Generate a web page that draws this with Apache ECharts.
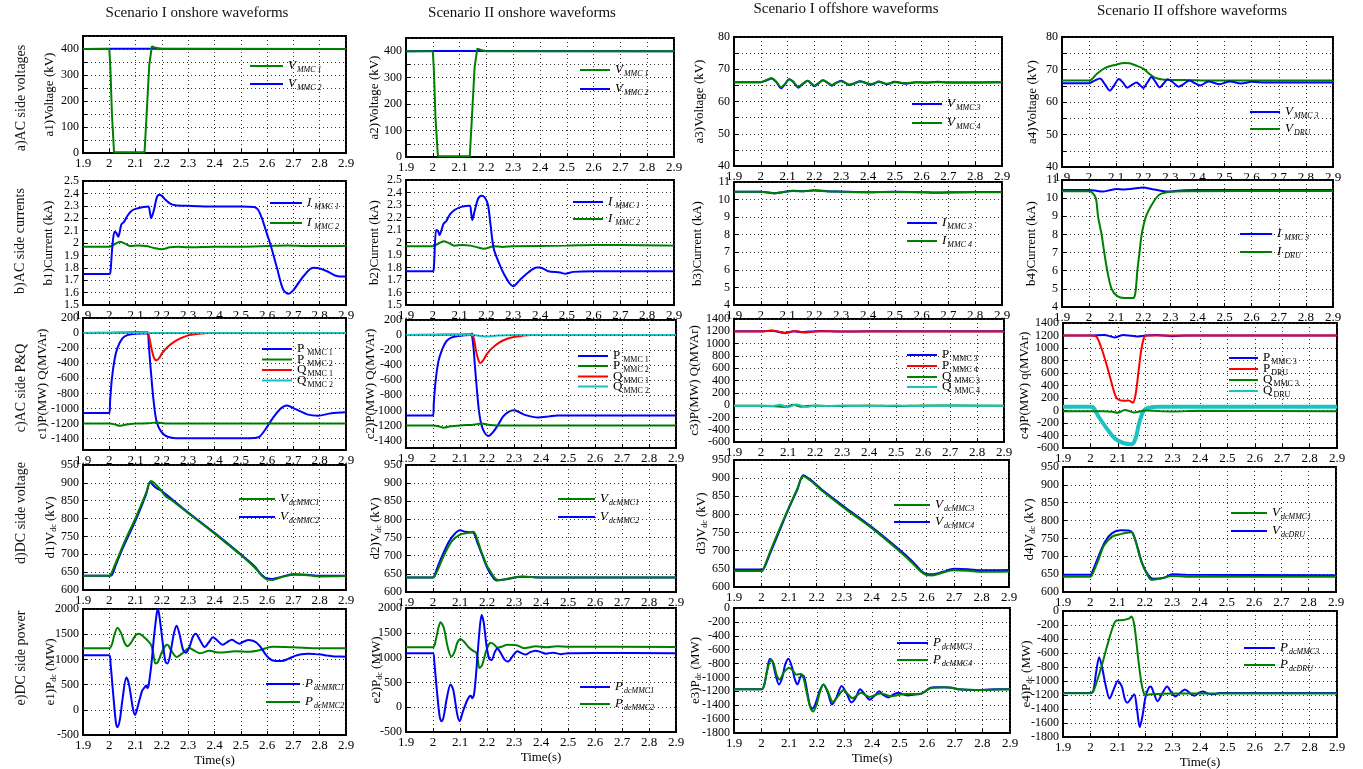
<!DOCTYPE html>
<html><head><meta charset="utf-8">
<script src="https://cdn.jsdelivr.net/npm/echarts@6/dist/echarts.min.js"></script>
<style>html,body{margin:0;padding:0;background:#fff}#c{width:1363px;height:769px}</style>
</head><body><div id="c"></div>
<script>
// ---------- texts ----------
const columnTitles = ['Scenario I onshore waveforms','Scenario II onshore waveforms','Scenario I offshore waveforms','Scenario II offshore waveforms'];
const rowTitles = ['a)AC side voltages','b)AC side currents','c)AC side P&Q','d)DC side voltage','e)DC side power'];
const timeRange = [1.9, 2.9, 0.1];
const cLineValues1 = [-1400,-1200,-1000,-800,-600,-400,-200,0,200];

// ---------- column 1 : Scenario I onshore ----------
const a1_V1 = [[1.9,400],[2.0,400],[2.004,330],[2.01,150],[2.018,3],[2.134,3],[2.142,150],[2.152,340],[2.162,410],[2.175,405],[2.2,400],[2.9,400]];
const a1_V2 = [[1.9,400],[2.0,401],[2.2,401],[2.9,400]];
const b1_I1 = [[1.9,1.75],[2.0,1.75],[2.004,1.76],[2.012,1.98],[2.02,2.09],[2.027,2.08],[2.034,2.05],[2.046,2.15],[2.056,2.17],[2.069,2.22],[2.085,2.26],[2.1,2.275],[2.13,2.29],[2.148,2.295],[2.155,2.24],[2.159,2.2],[2.169,2.26],[2.181,2.37],[2.19,2.39],[2.2,2.38],[2.2125,2.35],[2.23,2.32],[2.25,2.305],[2.3,2.3],[2.4,2.295],[2.5,2.295],[2.55,2.29],[2.565,2.27],[2.58,2.2],[2.6,2.07],[2.6125,1.99],[2.6375,1.8],[2.66,1.63],[2.68,1.59],[2.7,1.62],[2.7375,1.73],[2.775,1.8],[2.8,1.795],[2.83,1.77],[2.856,1.74],[2.88,1.73],[2.9,1.73]];
const b1_I2 = [[1.9,1.97],[2.0,1.97],[2.02,1.99],[2.04,2.01],[2.06,1.995],[2.08,1.975],[2.11,1.98],[2.14,1.975],[2.17,1.96],[2.2,1.95],[2.23,1.965],[2.26,1.97],[2.3,1.965],[2.4,1.97],[2.5,1.97],[2.6,1.975],[2.68,1.98],[2.75,1.975],[2.9,1.975]];
const c1_P1 = [[1.9,-1060],[2.0,-1060],[2.003,-900],[2.01,-600],[2.02,-350],[2.031,-195],[2.05,-70],[2.069,-27],[2.1,-8],[2.145,-3],[2.15,-150],[2.156,-420],[2.169,-915],[2.181,-1185],[2.206,-1340],[2.244,-1390],[2.3,-1395],[2.4,-1395],[2.5,-1393],[2.55,-1390],[2.569,-1380],[2.594,-1275],[2.619,-1140],[2.65,-1005],[2.675,-960],[2.706,-1005],[2.756,-1081],[2.794,-1095],[2.844,-1063],[2.9,-1050]];
const c1_P2 = [[1.9,-1200],[2.0,-1200],[2.02,-1210],[2.04,-1230],[2.06,-1215],[2.1,-1200],[2.15,-1195],[2.18,-1185],[2.22,-1200],[2.9,-1200]];
const c1_Q1 = [[1.9,0],[2.0,5],[2.1,10],[2.145,10],[2.152,-60],[2.16,-200],[2.17,-330],[2.18,-360],[2.19,-330],[2.2,-270],[2.22,-190],[2.245,-120],[2.27,-70],[2.3,-30],[2.34,-8],[2.38,0],[2.9,0]];
const c1_Q2 = [[1.9,0],[2.9,0]];
const d1_V1 = [[1.9,640],[2.0,640],[2.005,642],[2.02,668],[2.06,738],[2.1,802],[2.14,872],[2.158,905],[2.17,900],[2.19,885],[2.2,876],[2.215,862],[2.24,850],[2.3,815],[2.35,787],[2.4,758],[2.45,728],[2.5,698],[2.55,665],[2.58,640],[2.6,629],[2.62,628],[2.65,635],[2.7,643],[2.73,643],[2.8,638],[2.9,639]];
const d1_V2 = [[1.9,640],[2.0,640],[2.01,642],[2.025,670],[2.05,715],[2.1,795],[2.14,868],[2.155,902],[2.165,895],[2.18,885],[2.2,877],[2.22,865],[2.3,817],[2.4,760],[2.5,700],[2.55,668],[2.58,642],[2.6,632],[2.62,631],[2.66,638],[2.7,644],[2.75,643],[2.8,640],[2.9,640]];
const e1_P1 = [[1.9,1080],[2.0,1080],[2.005,900],[2.015,300],[2.025,-250],[2.031,-345],[2.04,-200],[2.05,200],[2.065,640],[2.075,500],[2.09,20],[2.098,-100],[2.11,100],[2.125,380],[2.135,450],[2.14,480],[2.145,430],[2.15,500],[2.16,900],[2.17,1450],[2.18,1900],[2.185,2000],[2.192,1800],[2.205,1250],[2.214,950],[2.221,920],[2.23,1050],[2.245,1500],[2.256,1670],[2.267,1500],[2.28,1200],[2.291,1130],[2.305,1250],[2.318,1450],[2.329,1510],[2.345,1380],[2.3625,1245],[2.38,1350],[2.394,1440],[2.41,1380],[2.431,1290],[2.45,1350],[2.466,1390],[2.48,1350],[2.494,1310],[2.51,1350],[2.53,1385],[2.545,1370],[2.56,1330],[2.575,1250],[2.594,1100],[2.61,1010],[2.625,975],[2.656,970],[2.68,1010],[2.706,1070],[2.73,1100],[2.756,1110],[2.78,1105],[2.806,1095],[2.83,1075],[2.856,1060],[2.88,1060],[2.9,1055]];
const e1_P2 = [[1.9,1220],[2.0,1220],[2.01,1300],[2.02,1500],[2.031,1630],[2.045,1520],[2.058,1330],[2.069,1260],[2.085,1350],[2.1,1480],[2.1125,1510],[2.13,1450],[2.145,1380],[2.16,1280],[2.168,1100],[2.175,920],[2.185,950],[2.2,1150],[2.213,1270],[2.221,1290],[2.235,1180],[2.256,1050],[2.28,1130],[2.304,1225],[2.325,1170],[2.344,1120],[2.38,1170],[2.42,1135],[2.48,1160],[2.53,1150],[2.57,1180],[2.62,1250],[2.7,1240],[2.8,1220],[2.9,1220]];

// ---------- column 2 : Scenario II onshore ----------
const a2_V1 = [[1.9,400],[2.0,400],[2.004,330],[2.01,150],[2.019,3],[2.138,3],[2.146,150],[2.156,340],[2.166,410],[2.18,405],[2.2,400],[2.9,400]];
const a2_V2 = [[1.9,400],[2.0,401],[2.2,401],[2.9,400]];
const b2_I1 = [[1.9,1.77],[2.0,1.77],[2.004,1.8],[2.0125,2.1],[2.02,2.09],[2.025,2.06],[2.04,2.15],[2.05,2.17],[2.0625,2.22],[2.081,2.26],[2.106,2.285],[2.1375,2.295],[2.143,2.24],[2.1475,2.18],[2.156,2.25],[2.169,2.35],[2.181,2.375],[2.194,2.36],[2.206,2.3],[2.215,2.15],[2.2275,1.95],[2.25,1.82],[2.265,1.75],[2.2875,1.67],[2.3,1.65],[2.325,1.7],[2.356,1.76],[2.3875,1.8],[2.4,1.8],[2.431,1.77],[2.475,1.76],[2.494,1.75],[2.525,1.765],[2.6,1.77],[2.9,1.77]];
const b2_I2 = [[1.9,1.97],[2.0,1.97],[2.02,1.99],[2.04,2.01],[2.06,1.995],[2.08,1.975],[2.11,1.98],[2.14,1.975],[2.17,1.96],[2.19,1.95],[2.23,1.97],[2.26,1.965],[2.3,1.97],[2.5,1.975],[2.6,1.98],[2.7,1.98],[2.9,1.975]];
const c2_P1 = [[1.9,-1070],[2.0,-1070],[2.003,-900],[2.01,-600],[2.02,-350],[2.033,-200],[2.05,-80],[2.07,-30],[2.1,-8],[2.14,0],[2.148,-100],[2.155,-400],[2.162,-700],[2.17,-1000],[2.18,-1200],[2.192,-1300],[2.206,-1340],[2.22,-1300],[2.24,-1200],[2.26,-1080],[2.28,-1020],[2.299,-1000],[2.32,-1025],[2.34,-1060],[2.39,-1095],[2.43,-1080],[2.46,-1068],[2.5,-1070],[2.6,-1068],[2.9,-1070]];
const c2_P2 = [[1.9,-1200],[2.0,-1200],[2.02,-1210],[2.04,-1230],[2.06,-1215],[2.1,-1200],[2.15,-1190],[2.18,-1175],[2.21,-1195],[2.24,-1200],[2.9,-1200]];
const c2_Q1 = [[1.9,0],[2.0,5],[2.14,10],[2.145,20],[2.152,-60],[2.16,-220],[2.168,-330],[2.175,-370],[2.185,-340],[2.2,-250],[2.22,-170],[2.245,-100],[2.27,-55],[2.3,-25],[2.33,-10],[2.36,0],[2.9,0]];
const c2_Q2 = [[1.9,0],[2.15,0],[2.18,-15],[2.2,-20],[2.24,-5],[2.3,0],[2.9,0]];
const d2_V1 = [[1.9,640],[2.0,640],[2.005,642],[2.02,665],[2.04,700],[2.07,740],[2.1,758],[2.13,763],[2.15,766],[2.164,745],[2.175,720],[2.185,700],[2.2,672],[2.21,660],[2.225,642],[2.24,633],[2.26,634],[2.28,637],[2.33,643],[2.4,640],[2.9,640]];
const d2_V2 = [[1.9,640],[2.0,640],[2.005,645],[2.02,675],[2.04,710],[2.06,740],[2.08,760],[2.1,770],[2.12,766],[2.14,764],[2.15,763],[2.165,735],[2.183,700],[2.2,668],[2.215,648],[2.235,632],[2.27,635],[2.33,642],[2.4,640],[2.5,640],[2.9,640]];
const e2_P1 = [[1.9,1090],[2.0,1090],[2.005,900],[2.015,300],[2.025,-200],[2.032,-285],[2.04,-180],[2.05,150],[2.065,460],[2.075,350],[2.09,-150],[2.099,-280],[2.11,-100],[2.125,120],[2.135,220],[2.14,230],[2.145,180],[2.152,260],[2.16,700],[2.17,1400],[2.18,1860],[2.188,1700],[2.198,1250],[2.208,980],[2.217,950],[2.228,1100],[2.238,1185],[2.25,1100],[2.265,960],[2.278,920],[2.295,1030],[2.312,1130],[2.328,1090],[2.343,1060],[2.36,1110],[2.38,1140],[2.4,1110],[2.417,1080],[2.445,1100],[2.473,1070],[2.5,1090],[2.6,1095],[2.9,1090]];
const e2_P2 = [[1.9,1210],[2.0,1210],[2.01,1350],[2.02,1600],[2.028,1715],[2.04,1600],[2.055,1200],[2.068,1020],[2.08,1120],[2.09,1300],[2.102,1373],[2.115,1320],[2.13,1220],[2.15,1130],[2.16,1100],[2.166,950],[2.172,790],[2.182,850],[2.195,1100],[2.207,1270],[2.214,1300],[2.225,1270],[2.24,1200],[2.255,1220],[2.275,1260],[2.31,1250],[2.337,1190],[2.36,1210],[2.38,1230],[2.42,1210],[2.46,1230],[2.5,1220],[2.9,1215]];

// ---------- column 3 : Scenario I offshore ----------
const a3_V3 = [[1.9,66],[2.0,66],[2.02,66.5],[2.04,67.1],[2.058,66],[2.076,64.1],[2.09,65.3],[2.106,66.9],[2.12,66.2],[2.14,64.3],[2.158,65.5],[2.175,66.4],[2.19,65.4],[2.2,64.7],[2.215,65.6],[2.232,66.6],[2.25,65.8],[2.265,64.9],[2.28,65.7],[2.3,66.4],[2.315,65.8],[2.33,65.1],[2.35,65.6],[2.37,66.3],[2.39,65.8],[2.41,65.2],[2.425,65.6],[2.44,66.2],[2.455,65.8],[2.47,65.3],[2.5,66.1],[2.54,65.5],[2.58,66.0],[2.62,65.8],[2.66,66.1],[2.7,65.9],[2.9,66]];
const a3_V4 = [[1.9,66],[2.0,66],[2.02,66.6],[2.04,67.2],[2.058,66.1],[2.076,64.4],[2.09,65.4],[2.106,66.9],[2.12,66.2],[2.14,64.6],[2.158,65.6],[2.175,66.4],[2.19,65.5],[2.2,64.9],[2.215,65.7],[2.232,66.6],[2.25,65.8],[2.265,65.1],[2.28,65.8],[2.3,66.3],[2.315,65.8],[2.33,65.3],[2.35,65.7],[2.37,66.2],[2.39,65.8],[2.41,65.4],[2.425,65.7],[2.44,66.1],[2.455,65.8],[2.47,65.5],[2.5,66.0],[2.54,65.7],[2.58,66.0],[2.62,65.9],[2.66,66.0],[2.7,65.9],[2.9,66]];
const b3_I3 = [[1.9,10.45],[2.0,10.45],[2.03,10.4],[2.05,10.36],[2.08,10.42],[2.12,10.5],[2.16,10.48],[2.2,10.53],[2.25,10.47],[2.3,10.45],[2.4,10.42],[2.5,10.44],[2.6,10.42],[2.65,10.4],[2.75,10.42],[2.9,10.43]];
const b3_I4 = [[1.9,10.44],[2.0,10.44],[2.03,10.39],[2.05,10.35],[2.08,10.42],[2.12,10.49],[2.16,10.47],[2.2,10.52],[2.25,10.46],[2.3,10.45],[2.4,10.42],[2.5,10.43],[2.6,10.42],[2.65,10.39],[2.75,10.41],[2.9,10.42]];
const c3_P3 = [[1.9,1200],[2.0,1200],[2.04,1210],[2.07,1185],[2.09,1175],[2.12,1200],[2.15,1185],[2.18,1195],[2.22,1205],[2.3,1195],[2.4,1200],[2.9,1200]];
const c3_P4 = [[1.9,1195],[2.0,1195],[2.04,1215],[2.07,1190],[2.09,1170],[2.11,1190],[2.13,1205],[2.16,1180],[2.2,1195],[2.25,1200],[2.35,1195],[2.5,1198],[2.9,1197]];
const c3_Q3 = [[1.9,-10],[2.0,-10],[2.05,-20],[2.09,-30],[2.12,5],[2.15,-25],[2.18,-10],[2.25,-15],[2.4,-5],[2.5,-15],[2.6,-5],[2.9,-10]];
const c3_Q4 = [[1.9,-10],[2.0,-10],[2.04,-15],[2.07,5],[2.1,-35],[2.13,10],[2.17,-30],[2.2,-5],[2.25,-20],[2.3,-5],[2.4,-15],[2.5,-5],[2.6,-15],[2.7,-8],[2.9,-10]];
const d3_V3 = [[1.9,644],[2.0,644],[2.005,646],[2.03,695],[2.06,750],[2.1,820],[2.13,870],[2.151,905],[2.17,898],[2.2,879],[2.22,865],[2.3,818],[2.4,763],[2.5,700],[2.55,665],[2.58,642],[2.6,633],[2.62,632],[2.66,640],[2.7,646],[2.75,645],[2.8,642],[2.9,643]];
const d3_V4 = [[1.9,648],[2.0,648],[2.008,650],[2.03,690],[2.06,745],[2.1,818],[2.13,868],[2.152,908],[2.17,900],[2.2,882],[2.22,868],[2.3,822],[2.4,766],[2.5,704],[2.55,670],[2.58,645],[2.6,636],[2.62,635],[2.66,642],[2.7,650],[2.75,649],[2.8,646],[2.9,647]];
const e3_P3 = [[1.9,-1170],[2.0,-1170],[2.01,-1100],[2.02,-900],[2.03,-730],[2.04,-780],[2.05,-950],[2.063,-1100],[2.075,-1000],[2.085,-820],[2.097,-730],[2.11,-850],[2.12,-1020],[2.13,-1100],[2.14,-1000],[2.146,-960],[2.155,-1000],[2.165,-1200],[2.175,-1400],[2.185,-1450],[2.195,-1380],[2.21,-1200],[2.224,-1100],[2.24,-1220],[2.255,-1390],[2.27,-1300],[2.29,-1123],[2.31,-1250],[2.325,-1360],[2.34,-1300],[2.357,-1170],[2.375,-1250],[2.392,-1320],[2.41,-1260],[2.426,-1200],[2.44,-1250],[2.459,-1290],[2.475,-1250],[2.495,-1220],[2.51,-1240],[2.53,-1260],[2.55,-1250],[2.574,-1240],[2.59,-1210],[2.61,-1150],[2.63,-1140],[2.66,-1140],[2.69,-1150],[2.71,-1170],[2.76,-1180],[2.8,-1180],[2.85,-1170],[2.9,-1170]];
const e3_P4 = [[1.9,-1170],[2.0,-1170],[2.01,-1100],[2.02,-900],[2.035,-740],[2.045,-820],[2.055,-970],[2.065,-1030],[2.08,-930],[2.1,-860],[2.113,-900],[2.126,-960],[2.142,-950],[2.152,-1010],[2.165,-1250],[2.178,-1450],[2.187,-1490],[2.2,-1380],[2.212,-1200],[2.224,-1100],[2.24,-1200],[2.258,-1350],[2.275,-1280],[2.297,-1180],[2.315,-1250],[2.33,-1300],[2.345,-1260],[2.36,-1220],[2.375,-1250],[2.39,-1280],[2.41,-1255],[2.43,-1230],[2.45,-1250],[2.47,-1270],[2.5,-1250],[2.53,-1240],[2.58,-1230],[2.6,-1180],[2.62,-1150],[2.67,-1140],[2.72,-1170],[2.8,-1180],[2.9,-1170]];

// ---------- column 4 : Scenario II offshore ----------
const a4_V3 = [[1.9,65.8],[2.0,65.8],[2.02,66.6],[2.04,67.2],[2.058,65.5],[2.077,63.5],[2.093,65.2],[2.11,67.1],[2.125,66],[2.14,64.4],[2.158,65.3],[2.175,66],[2.19,65],[2.2,64.3],[2.215,66],[2.23,67.7],[2.245,66.2],[2.26,64.5],[2.275,65.7],[2.29,67],[2.31,66],[2.33,64.7],[2.35,65.6],[2.37,66.6],[2.39,65.8],[2.41,65.1],[2.44,66.3],[2.48,65.5],[2.52,66.3],[2.56,65.7],[2.6,66.2],[2.65,66],[2.9,66]];
const a4_VD = [[1.9,66.6],[2.0,66.6],[2.01,67],[2.03,68.8],[2.06,70.5],[2.1,71.5],[2.13,72],[2.15,71.9],[2.17,71.3],[2.2,70.3],[2.22,68.8],[2.245,67.4],[2.27,66.9],[2.3,66.8],[2.35,66.8],[2.45,66.6],[2.9,66.6]];
const b4_I3 = [[1.9,10.45],[2.0,10.45],[2.03,10.4],[2.05,10.36],[2.08,10.45],[2.1,10.5],[2.13,10.48],[2.16,10.52],[2.2,10.58],[2.23,10.5],[2.26,10.42],[2.3,10.36],[2.35,10.44],[2.4,10.45],[2.9,10.45]];
const b4_ID = [[1.9,10.38],[2.0,10.38],[2.012,10.3],[2.025,10],[2.033,9],[2.046,8],[2.056,7],[2.067,6],[2.083,5],[2.104,4.6],[2.13,4.5],[2.163,4.5],[2.171,4.8],[2.178,6],[2.186,7],[2.194,8],[2.21,9],[2.238,9.8],[2.26,10.2],[2.3,10.35],[2.35,10.38],[2.9,10.4]];
const c4_P3 = [[1.9,1200],[2.0,1200],[2.05,1210],[2.09,1170],[2.12,1210],[2.15,1195],[2.17,1185],[2.2,1200],[2.24,1210],[2.3,1190],[2.35,1200],[2.9,1200]];
const c4_PD = [[1.9,1200],[2.0,1200],[2.02,1190],[2.04,1000],[2.06,720],[2.08,400],[2.09,250],[2.1,180],[2.12,155],[2.14,160],[2.155,125],[2.165,260],[2.175,600],[2.185,950],[2.198,1190],[2.21,1200],[2.9,1200]];
const c4_Q3 = [[1.9,-10],[2.0,-10],[2.05,-10],[2.08,-20],[2.1,-35],[2.125,10],[2.16,-30],[2.2,0],[2.25,-10],[2.3,-15],[2.4,-5],[2.9,-10]];
const c4_QD = [[1.9,60],[2.0,60],[2.01,50],[2.03,-100],[2.06,-290],[2.09,-450],[2.12,-520],[2.15,-540],[2.16,-500],[2.168,-400],[2.175,-250],[2.185,-100],[2.195,0],[2.21,40],[2.25,60],[2.9,60]];
const d4_V1 = [[1.9,643],[2.0,643],[2.005,645],[2.03,690],[2.05,730],[2.08,755],[2.11,762],[2.15,767],[2.165,745],[2.18,702],[2.2,662],[2.225,634],[2.26,638],[2.3,645],[2.35,643],[2.9,643]];
const d4_VD = [[1.9,648],[2.0,648],[2.005,652],[2.03,700],[2.055,742],[2.08,765],[2.11,773],[2.14,772],[2.155,765],[2.175,720],[2.19,680],[2.21,650],[2.23,637],[2.27,640],[2.3,650],[2.35,648],[2.9,647]];
const e4_P3 = [[1.9,-1170],[2.0,-1170],[2.01,-1150],[2.02,-900],[2.032,-660],[2.045,-850],[2.055,-1050],[2.07,-1250],[2.085,-1120],[2.1,-1000],[2.115,-1080],[2.125,-1250],[2.135,-1310],[2.148,-1250],[2.16,-1190],[2.17,-1400],[2.18,-1660],[2.19,-1500],[2.2,-1250],[2.21,-1120],[2.22,-1080],[2.232,-1180],[2.245,-1290],[2.262,-1180],[2.28,-1080],[2.295,-1160],[2.31,-1220],[2.33,-1160],[2.345,-1120],[2.365,-1180],[2.38,-1210],[2.395,-1170],[2.41,-1150],[2.43,-1180],[2.45,-1190],[2.47,-1170],[2.5,-1170],[2.9,-1170]];
const e4_PD = [[1.9,-1175],[2.0,-1175],[2.01,-1150],[2.02,-1050],[2.04,-800],[2.06,-515],[2.08,-250],[2.095,-135],[2.12,-130],[2.14,-110],[2.15,-80],[2.16,-200],[2.168,-450],[2.175,-700],[2.185,-1000],[2.193,-1150],[2.2,-1200],[2.22,-1190],[2.3,-1180],[2.9,-1180]];

// ---------- styling / layout ----------
const FONT = '"Liberation Serif","DejaVu Serif",serif';
const COL = {blue:'#0000ff', green:'#008000', red:'#ff0000', cyan:'#1cc2c2'};
const rich = {
  I:{fontFamily:FONT,fontSize:13,fontStyle:'italic',lineHeight:16,color:'#000'},
  R:{fontFamily:FONT,fontSize:13,lineHeight:16,color:'#000'},
  i:{fontFamily:FONT,fontSize:8,fontStyle:'italic',lineHeight:8,padding:[8,0,0,1],color:'#000'},
  r:{fontFamily:FONT,fontSize:8,lineHeight:8,padding:[8,0,0,1],color:'#000'}
};
const nameRich = {n:{fontFamily:FONT,fontSize:13,color:'#000'}, s:{fontFamily:FONT,fontSize:8,color:'#000',padding:[6,0,0,0]}};
const tickRich = {t:{fontFamily:FONT,fontSize:12,color:'#000',lineHeight:6,height:6}};

const yA = {min:0,max:450,step:50,lab:100};
const yB = {min:1.5,max:2.5,step:0.1};
const yV = {min:40,max:80,step:5,lab:10};
const yI = {min:4,max:11,step:1};
const yPQo = {min:-600,max:1400,step:200};
const yD = {min:600,max:950,step:50};
const yE = {min:-500,max:2000,step:500};
const yEo = {min:-1800,max:0,step:200};

const panels = [
 {id:'a1',box:[83,36,346,153],y:yA,yName:'a1)Voltage (kV)',ncx:50,smooth:false,
  ser:[['V2',a1_V2,'blue'],['V1',a1_V1,'green']],
  leg:{x:250,w:33,ys:[66,84],items:[['V1','{I|V}{i|MMC 1}'],['V2','{I|V}{i|MMC 2}']]}},
 {id:'b1',box:[83,181,346,305],y:yB,yName:'b1)Current (kA)',ncx:49,
  ser:[['I2',b1_I2,'green'],['I1',b1_I1,'blue']],
  leg:{x:270,w:32,ys:[203,223],items:[['I1','{I|I}{i| MMC 1}'],['I2','{I|I}{i| MMC 2}']]}},
 {id:'c1',box:[83,318,346,450],y:{min:-1550,max:200,step:50,lab:200,lines:cLineValues1},yName:'c1)P(MW) Q(MVAr)',ncx:43,
  ser:[['P1',c1_P1,'blue'],['P2',c1_P2,'green'],['Q1',c1_Q1,'red'],['Q2',c1_Q2,'cyan']],
  leg:{x:262,w:30,ys:[349,359.5,370,380.5],items:[['P1','{R|P}{r| MMC 1}'],['P2','{R|P}{r| MMC 2}'],['Q1','{R|Q}{r|MMC 1}'],['Q2','{R|Q}{r|MMC 2}']]}},
 {id:'d1',box:[83,465,346,590],y:yD,yName:'{n|d1)V}{s|dc}{n| (kV)}',ncx:51,
  ser:[['V2',d1_V2,'blue'],['V1',d1_V1,'green']],
  leg:{x:239,w:36,ys:[499,517],items:[['V1','{I|V}{i|dcMMC1}'],['V2','{I|V}{i|dcMMC2}']]}},
 {id:'e1',box:[83,609,346,735],y:yE,yName:'{n|e1)P}{s|dc}{n| (MW)}',ncx:51,
  ser:[['P2',e1_P2,'green'],['P1',e1_P1,'blue']],
  leg:{x:266,w:34,ys:[684,702],items:[['P1','{I|P}{i|dcMMC1}'],['P2','{I|P}{i|dcMMC2}']]}},

 {id:'a2',box:[406,38,674,157],y:yA,yName:'a2)Voltage (kV)',ncx:375,smooth:false,
  ser:[['V2',a2_V2,'blue'],['V1',a2_V1,'green']],
  leg:{x:580,w:30,ys:[70,89],items:[['V1','{I|V}{i|MMC 1}'],['V2','{I|V}{i|MMC 2}']]}},
 {id:'b2',box:[406,180,674,305],y:yB,yName:'b2)Current (kA)',ncx:375,
  ser:[['I2',b2_I2,'green'],['I1',b2_I1,'blue']],
  leg:{x:573,w:30,ys:[202,219],items:[['I1','{I|I}{i| MMC 1}'],['I2','{I|I}{i| MMC 2}']]}},
 {id:'c2',box:[406,320,676,448],y:{min:-1500,max:200,step:50,lab:200,lines:cLineValues1},yName:'c2)P(MW) Q(MVAr)',ncx:371,
  ser:[['P1',c2_P1,'blue'],['P2',c2_P2,'green'],['Q1',c2_Q1,'red'],['Q2',c2_Q2,'cyan']],
  leg:{x:578,w:30,ys:[356,366,376.5,386.5],items:[['P1','{R|P}{r| MMC 1}'],['P2','{R|P}{r| MMC 2}'],['Q1','{R|Q}{r|MMC 1}'],['Q2','{R|Q}{r|MMC 2}']]}},
 {id:'d2',box:[406,465,676,592],y:yD,yName:'{n|d2)V}{s|dc}{n| (kV)}',ncx:376,
  ser:[['V2',d2_V2,'blue'],['V1',d2_V1,'green']],
  leg:{x:558,w:37,ys:[499,517],items:[['V1','{I|V}{i|dcMMC1}'],['V2','{I|V}{i|dcMMC2}']]}},
 {id:'e2',box:[406,608,676,732],y:yE,yName:'{n|e2)P}{s|dc}{n| (MW)}',ncx:377,
  ser:[['P2',e2_P2,'green'],['P1',e2_P1,'blue']],
  leg:{x:580,w:30,ys:[687,704],items:[['P1','{I|P}{i|dcMMC1}'],['P2','{I|P}{i|dcMMC2}']]}},

 {id:'a3',box:[734,37,1002,166],y:yV,yName:'a3)Voltage (kV)',ncx:700,
  ser:[['V3',a3_V3,'blue'],['V4',a3_V4,'green']],
  leg:{x:912,w:30,ys:[104,123],items:[['V3','{I|V}{i|MMC 3}'],['V4','{I|V}{i|MMC 4}']]}},
 {id:'b3',box:[734,182,1002,305],y:yI,yName:'b3)Current (kA)',ncx:698,
  ser:[['I3',b3_I3,'blue'],['I4',b3_I4,'green']],
  leg:{x:907,w:30,ys:[223,241],items:[['I3','{I|I}{i|MMC 3}'],['I4','{I|I}{i|MMC 4}']]}},
 {id:'c3',box:[734,319,1004,442],y:yPQo,yName:'c3)P(MW) Q(MVAr)',ncx:695,
  ser:[['P3',c3_P3,'blue'],['P4',c3_P4,'red'],['Q3',c3_Q3,'green'],['Q4',c3_Q4,'cyan']],
  leg:{x:907,w:30,ys:[355,366,377,387],items:[['P3','{R|P}{r| MMC 3}'],['P4','{R|P}{r| MMC 4}'],['Q3','{R|Q}{r| MMC 3}'],['Q4','{R|Q}{r| MMC 4}']]}},
 {id:'d3',box:[734,460,1009,587],y:yD,yName:'{n|d3)V}{s|dc}{n| (kV)}',ncx:702,
  ser:[['V4',d3_V4,'blue'],['V3',d3_V3,'green']],
  leg:{x:894,w:36,ys:[505,522],items:[['V3','{I|V}{i|dcMMC3}'],['V4','{I|V}{i|dcMMC4}']]}},
 {id:'e3',box:[734,608,1010,733],y:yEo,yName:'{n|e3)P}{s|dc}{n| (MW)}',ncx:696,
  ser:[['P3',e3_P3,'blue'],['P4',e3_P4,'green']],
  leg:{x:897,w:31,ys:[643,660],items:[['P3','{I|P}{i|dcMMC3}'],['P4','{I|P}{i|dcMMC4}']]}},

 {id:'a4',box:[1062,37,1333,167],y:yV,yName:'a4)Voltage (kV)',ncx:1033,
  ser:[['VD',a4_VD,'green'],['V3',a4_V3,'blue']],
  leg:{x:1250,w:30,ys:[112,129],items:[['V3','{I|V}{i|MMC 3}'],['VD','{I|V}{i|DRU}']]}},
 {id:'b4',box:[1062,180,1333,307],y:yI,yName:'b4)Current (kA)',ncx:1032,
  ser:[['I3',b4_I3,'blue'],['ID',b4_ID,'green']],
  leg:{x:1240,w:32,ys:[234,252],items:[['I3','{I|I}{i| MMC 3}'],['ID','{I|I}{i| DRU}']]}},
 {id:'c4',box:[1063,323,1337,448],y:yPQo,yName:'c4)P(MW) q(MVAr)',ncx:1025,
  ser:[['P3',c4_P3,'blue'],['PD',c4_PD,'red'],['QD',c4_QD,'cyan',4],['Q3',c4_Q3,'green']],
  leg:{x:1229,w:29,ys:[358,369,380,391],items:[['P3','{R|P}{r|MMC 3}'],['PD','{R|P}{r|DRU}'],['Q3','{R|Q}{r|MMC 3}'],['QD','{R|Q}{r|DRU}']]}},
 {id:'d4',box:[1063,467,1336,592],y:yD,yName:'{n|d4)V}{s|dc}{n| (kV)}',ncx:1030,
  ser:[['VD',d4_VD,'blue'],['V1',d4_V1,'green']],
  leg:{x:1231,w:36,ys:[513,531],items:[['V1','{I|V}{i|dcMMC1}'],['VD','{I|V}{i|dcDRU}']]}},
 {id:'e4',box:[1063,611,1337,737],y:yEo,yName:'{n|e4)P}{s|dc}{n| (MW)}',ncx:1027,
  ser:[['P3',e4_P3,'blue'],['PD',e4_PD,'green']],
  leg:{x:1244,w:31,ys:[648,665],items:[['P3','{I|P}{i|dcMMC3}'],['PD','{I|P}{i|dcDRU}']]}}
];

const fmt = v => String(Math.round(v*100)/100);
const dotted = {type:[1,3], color:'#333', width:1};
const opt = {animation:false, backgroundColor:'#fff', textStyle:{fontFamily:FONT},
  grid:[], xAxis:[], yAxis:[], series:[], legend:[], graphic:[]};
const extraY = [];

panels.forEach((p,i)=>{
  const [l,t,r,b] = p.box;
  opt.grid.push({left:l, top:t, width:r-l, height:b-t, show:true, borderColor:'#000', borderWidth:2,
    backgroundColor:'#fff', containLabel:false, outerBoundsMode:'none'});
  const bottomRow = p.id[0]==='e';
  opt.xAxis.push({gridIndex:i, type:'value', min:timeRange[0], max:timeRange[1], interval:timeRange[2],
    axisLine:{show:true, onZero:false, lineStyle:{color:'#000', width:2}},
    axisTick:{show:true, inside:true, length:4, lineStyle:{color:'#000'}},
    axisLabel:{margin:4, fontFamily:FONT, fontSize:13, color:'#000', showMinLabel:true, showMaxLabel:true,
      hideOverlap:false, formatter:v=>String(Math.round(v*10)/10)},
    splitLine:{show:true, lineStyle:dotted},
    name: bottomRow ? 'Time(s)' : '', nameLocation:'middle', nameGap:19, nameMoveOverlap:false,
    nameTextStyle:{fontFamily:FONT, fontSize:13, color:'#000'}});
  const y = p.y;
  const custom = !!y.lines;
  const labFmt = v=>{ if (y.lab && Math.abs(Math.round(v/y.lab)*y.lab - v) > 1e-6) return ''; return '{t|'+fmt(v)+'}'; };
  const lblStyle = {margin:4, fontFamily:FONT, fontSize:12, color:'#000', hideOverlap:false, formatter:labFmt, rich:tickRich};
  opt.yAxis.push({gridIndex:i, type:'value', min:y.min, max:y.max, interval:y.step, position:'left',
    axisLine:{show:true, onZero:false, lineStyle:{color:'#000', width:2}},
    axisTick:{show:!custom, inside:true, length:4, lineStyle:{color:'#000'}},
    axisLabel:Object.assign({}, lblStyle, {showMinLabel:false, showMaxLabel:false}),
    splitLine:{show:!custom, lineStyle:dotted},
    name:p.yName, nameLocation:'middle', nameGap:l-p.ncx-6.5, nameMoveOverlap:false,
    nameTextStyle:{fontFamily:FONT, fontSize:13, color:'#000', rich:nameRich}});
  if (!custom) {
    // second axis on the same side that only carries the end labels (min and max)
    extraY.push({gridIndex:i, type:'value', min:y.min, max:y.max, interval:y.max-y.min, position:'left', offset:0,
      axisLine:{show:false}, axisTick:{show:false}, splitLine:{show:false},
      axisLabel:Object.assign({}, lblStyle, {showMinLabel:true, showMaxLabel:true})});
  } else {
    // grid lines at the labelled values; the top value carries its tick label at the axis side
    const top = y.lines[y.lines.length-1];
    opt.series.push({type:'line', xAxisIndex:i, yAxisIndex:i, data:[], silent:true, z:1,
      markLine:{silent:true, symbol:'none', animation:false, label:{show:false},
        lineStyle:dotted,
        data:y.lines.map(v=>v===top
          ? {yAxis:v, label:{show:true, position:'start', distance:4, formatter:String(v),
              fontFamily:FONT, fontSize:12, color:'#000'}}
          : {yAxis:v})}});
  }
  p.ser.forEach(s=>{
    opt.series.push({type:'line', name:p.id+':'+s[0], xAxisIndex:i, yAxisIndex:i, data:s[1],
      symbol:'none', showSymbol:false, smooth:p.smooth===false?false:0.3, z:3,
      lineStyle:{color:COL[s[2]], width:s[3]||2}, itemStyle:{color:COL[s[2]]}});
  });
  p.leg.items.forEach((it,k)=>{
    const label = it[1];
    opt.legend.push({data:[p.id+':'+it[0]], left:p.leg.x, top:p.leg.ys[k]-8, icon:'rect',
      itemWidth:p.leg.w, itemHeight:2, padding:0, itemGap:0, selectedMode:false,
      formatter:()=>label, textStyle:{color:'#000', fontFamily:FONT, fontSize:13, rich}});
  });
});
opt.yAxis = opt.yAxis.concat(extraY);

const titlePos = [[197,13],[522,13],[846,9],[1192,11]];
columnTitles.forEach((txt,k)=>{
  opt.graphic.push({type:'text', x:titlePos[k][0], y:titlePos[k][1],
    style:{text:txt, fill:'#111', font:'15px '+FONT, textAlign:'center', textVerticalAlign:'middle'}});
});
const rowPos = [[21,98],[20,241],[21,388],[21,513],[21,658]];
rowTitles.forEach((txt,k)=>{
  opt.graphic.push({type:'text', x:rowPos[k][0], y:rowPos[k][1], rotation:Math.PI/2,
    style:{text:txt, fill:'#111', font:'14px '+FONT, textAlign:'center', textVerticalAlign:'middle'}});
});

const chart = echarts.init(document.getElementById('c'), null, {renderer:'canvas', width:1363, height:769});
chart.setOption(opt);
</script></body></html>
